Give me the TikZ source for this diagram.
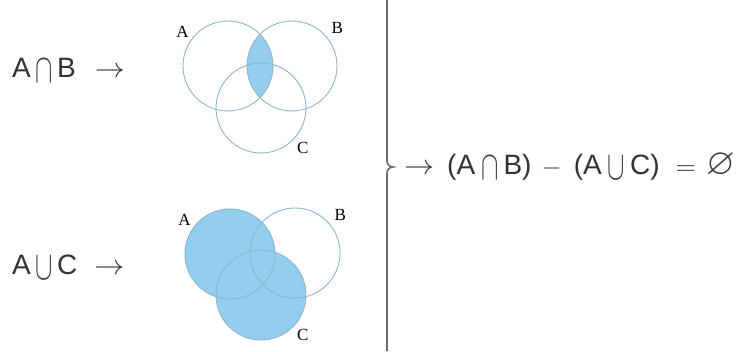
\documentclass[tikz,border=0pt]{standalone}
\usepackage{amssymb}
\usepackage{fontspec}
\newfontfamily\setfont{Liberation Sans}
\newfontfamily\labfont{Liberation Serif}
\usetikzlibrary{positioning,calc}
\definecolor{vennline}{HTML}{8DB6C6}
\definecolor{vennfill}{HTML}{93CDEF}
\definecolor{bracegray}{HTML}{6A6A6A}
\newcommand{\msym}[3]{\scalebox{#1}[#2]{\fontsize{10}{12}\selectfont$#3$}}
\newcommand{\tcap}{\raisebox{-5pt}{\msym{2.6}{4.1}{\cap}}}
\newcommand{\tcup}{\raisebox{-5pt}{\msym{2.6}{4.1}{\cup}}}
\newcommand{\tto}{\msym{3}{2.8}{\rightarrow}}
\tikzset{
  setlabel/.style={font=\fontsize{17}{19}\selectfont\labfont, inner sep=0pt},
  formula/.style={font=\fontsize{28}{32}\selectfont\setfont, inner sep=0pt, anchor=west, text=black!80},
  venn/.style={draw=vennline, line width=0.9pt},
}

\begin{document}
\begin{tikzpicture}[x=1pt, y=1pt]
\useasboundingbox (0,0) rectangle (738,351);
% A cap B
\coordinate (ta) at (228,285);
\coordinate (tb) at (292,285);
\coordinate (tc) at (261,243);
\begin{scope}
  \clip (ta) circle (45);
  \fill[vennfill] (tb) circle (45);
\end{scope}
\foreach \c in {ta,tb,tc} \draw[venn] (\c) circle (45);
\node[setlabel] (tlA) at ($(ta)+(143:57)$) {A};
\node[setlabel] (tlB) at ($(tb)+(40:59)$) {B};
\node[setlabel] (tlC) at ($(tc)+(-44:58)$) {C};
% A cup C
\coordinate (ba) at (230,97);
\coordinate (bb) at (295,98);
\coordinate (bc) at (261,56);
\fill[vennfill] (ba) circle (45) (bc) circle (45);
\foreach \c in {ba,bb,bc} \draw[venn] (\c) circle (45);
\node[setlabel] (blA) at ($(ba)+(143:57)$) {A};
\node[setlabel] (blB) at ($(bb)+(40:59)$) {B};
\node[setlabel] (blC) at ($(bc)+(-44:58)$) {C};

\node[formula] (capAB) at (12,281) {A\hspace{5pt}\tcap\hspace{4pt}B\hspace{19pt}\tto};
\node[formula] (cupAC) at (12,84) {A\hspace{5pt}\tcup\hspace{4pt}C\hspace{17pt}\tto};

\coordinate (tip) at (393,184);
\draw[bracegray, line width=1.6pt] (387,351) -- (387,190) to[out=-90, in=180] (tip)
  to[out=180, in=90] (387,178) -- (387,0);
\node[formula, right=11pt of tip] (result) {\tto\hspace{13pt}(A\hspace{6pt}\tcap\hspace{5pt}B)\hspace{10pt}\msym{2.6}{2.4}{-}\hspace{12pt}(A\hspace{6pt}\tcup\hspace{5pt}C)\hspace{16pt}\msym{2.6}{2.4}{=}\hspace{11pt}\msym{3.7}{3.7}{\varnothing}};
\end{tikzpicture}
\end{document}
